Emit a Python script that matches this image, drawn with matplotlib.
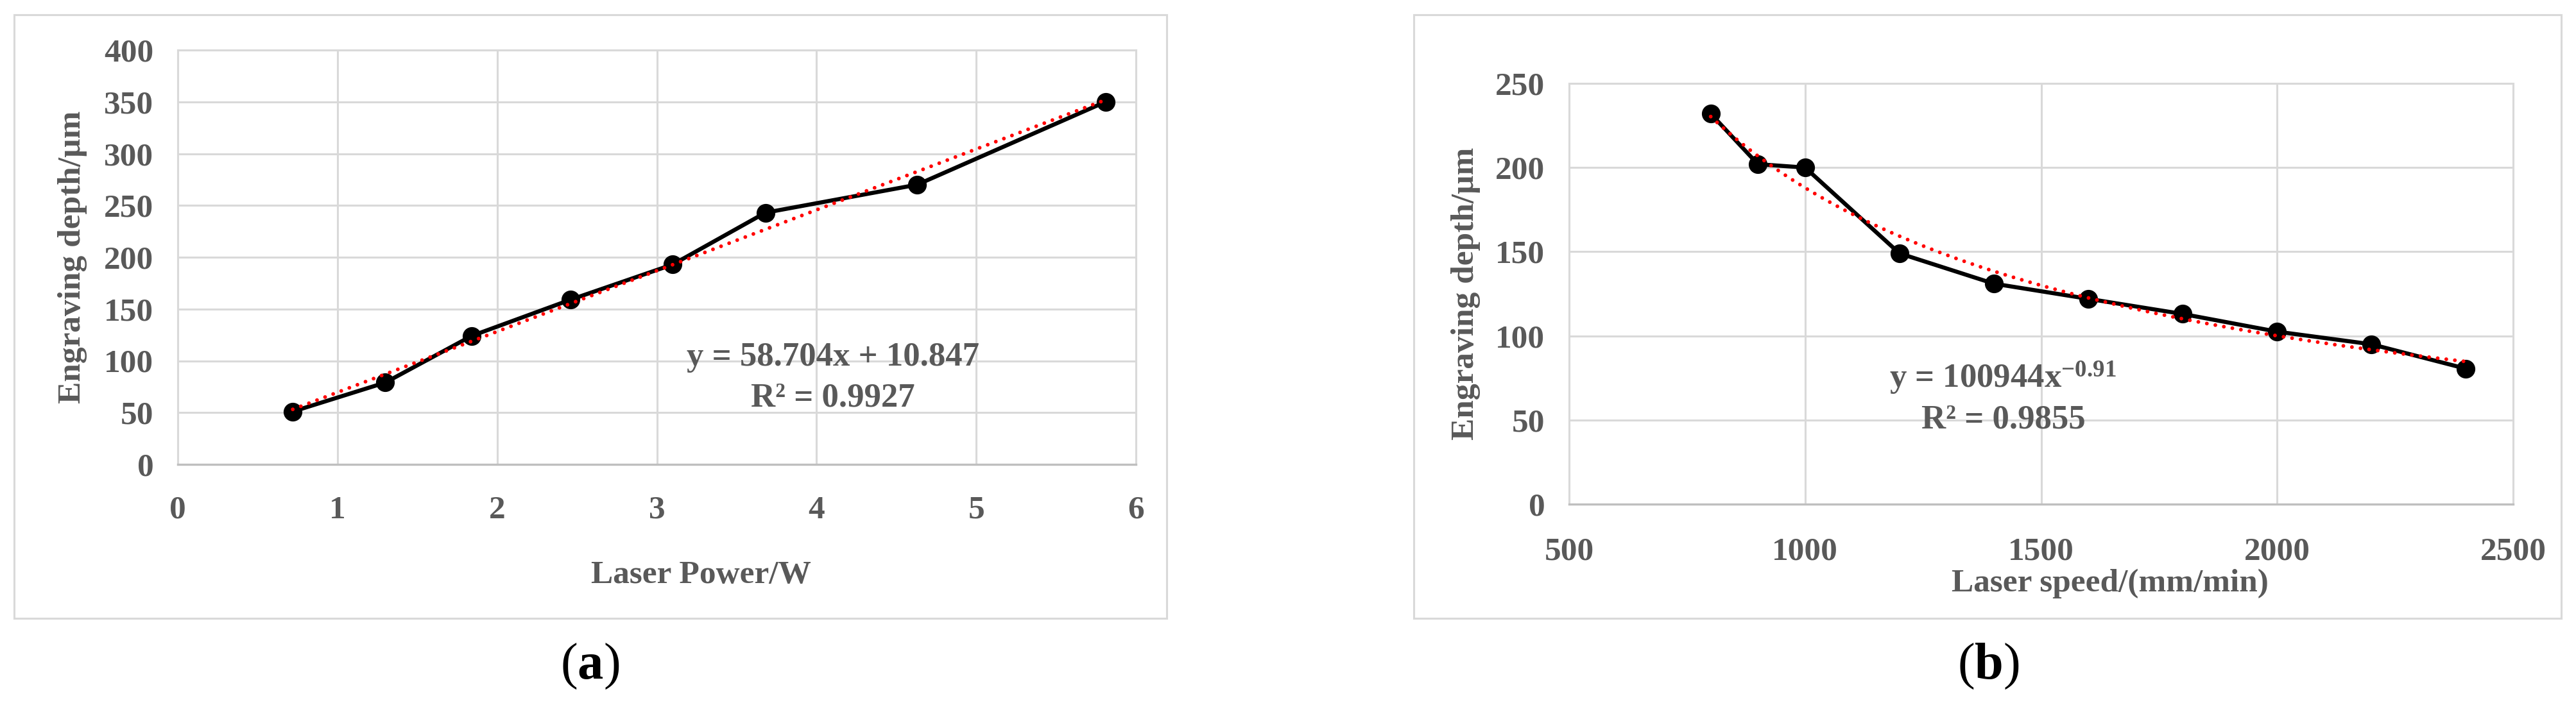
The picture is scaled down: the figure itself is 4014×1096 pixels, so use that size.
import numpy as np
import matplotlib
matplotlib.use('Agg')
import matplotlib.pyplot as plt
from matplotlib.patches import Rectangle

# (a) engraving depth vs laser power
power = [0.72, 1.30, 1.84, 2.46, 3.10, 3.68, 4.63, 5.81]
depth_power = [51, 79, 124, 159, 193, 243, 270, 350]
lin_slope, lin_icept, lin_r2 = 58.704, 10.847, 0.9927

# (b) engraving depth vs laser speed
speed = [800, 900, 1000, 1200, 1400, 1600, 1800, 2000, 2200, 2400]
depth_speed = [232, 202, 200, 149, 131, 122, 113, 102.5, 95, 80.5]
pow_coef, pow_exp, pow_r2 = 100944, -0.91, 0.9855

W, H = 4014, 1096
grey = '#595959'
grid_c = '#d9d9d9'

plt.rcParams['font.family'] = ['Liberation Serif', 'DejaVu Serif']
plt.rcParams['mathtext.fontset'] = 'custom'
plt.rcParams['mathtext.rm'] = 'Liberation Serif'
plt.rcParams['mathtext.bf'] = 'Liberation Serif:bold'
plt.rcParams['mathtext.it'] = 'Liberation Serif:italic'

fig = plt.figure(figsize=(W / 100, H / 100), dpi=100)


def rect(l, t, r, b):
    # pixel box -> figure fraction
    return [l / W, 1 - b / H, (r - l) / W, (b - t) / H]


def ftext(x, y, s, **kw):
    return fig.text(x / W, 1 - y / H, s, **kw)


def style(ax, xticks, yticks, xpad):
    for s in ['top', 'right', 'left']:
        ax.spines[s].set_color(grid_c)
        ax.spines[s].set_linewidth(2.2)
    ax.spines['bottom'].set_color('#bfbfbf')
    ax.spines['bottom'].set_linewidth(2.4)
    ax.grid(True, color=grid_c, lw=2.2)
    ax.set_axisbelow(True)
    ax.set_xticks(xticks)
    ax.set_yticks(yticks)
    ax.set_xticklabels([str(t) for t in xticks], fontweight='bold')
    ax.set_yticklabels([str(t) for t in yticks], fontweight='bold')
    ax.tick_params(length=0, labelsize=37, labelcolor=grey)
    ax.tick_params(axis='x', pad=xpad)
    ax.tick_params(axis='y', pad=27)


# outer frames
for l, r in [(22, 1818), (2203, 3991)]:
    fig.patches.append(Rectangle((l / W, 1 - 964 / H), (r - l) / W, (964 - 23) / H,
                                 transform=fig.transFigure, fill=False,
                                 edgecolor=grid_c, lw=2.2))

# ---- panel a
ax1 = fig.add_axes(rect(277, 78, 1770, 724))
ax1.set_xlim(0, 6)
ax1.set_ylim(0, 400)
style(ax1, list(range(0, 7)), list(range(0, 401, 50)), 35)
ax1.plot(power, depth_power, color='black', lw=4.6, marker='o', ms=20, zorder=3)
xa = np.array([min(power), max(power)])
ax1.plot(xa, lin_slope * xa + lin_icept, color='red', lw=4.2,
         ls=(0, (0.01, 2.3)), dash_capstyle='round', zorder=4)

ftext(1298, 570, f'y = {lin_slope}x + {lin_icept}', ha='center', va='baseline',
      fontsize=38, fontweight='bold', color=grey)
ftext(1298, 633, f'R² = {lin_r2}', ha='center', va='baseline',
      fontsize=38, fontweight='bold', color=grey)
ftext(1092, 909, 'Laser Power/W', ha='center', va='baseline',
      fontsize=37, fontweight='bold', color=grey)
ftext(113, 401, 'Engraving depth/µm', rotation=90, ha='center', va='center',
      fontsize=37, fontweight='bold', color=grey)
ftext(919, 1039, r'$(\mathbf{a})$', ha='center', va='center', fontsize=58, color='black')

# ---- panel b
ax2 = fig.add_axes(rect(2445, 130, 3916, 786))
ax2.set_xlim(500, 2500)
ax2.set_ylim(0, 250)
style(ax2, list(range(500, 2501, 500)), list(range(0, 251, 50)), 37)
ax2.plot(speed, depth_speed, color='black', lw=4.6, marker='o', ms=20, zorder=3)
xb = np.linspace(min(speed), max(speed), 200)
ax2.plot(xb, pow_coef * xb ** pow_exp, color='red', lw=4.2,
         ls=(0, (0.01, 2.3)), dash_capstyle='round', zorder=4)

ftext(3121, 605, f'y = {pow_coef}x' + r'$^{\mathbf{' + str(pow_exp) + '}}$',
      ha='center', va='baseline', fontsize=38, fontweight='bold', color=grey)
ftext(3122, 668, f'R² = {pow_r2}', ha='center', va='baseline',
      fontsize=38, fontweight='bold', color=grey)
ftext(3288, 922, 'Laser speed/(mm/min)', ha='center', va='baseline',
      fontsize=37, fontweight='bold', color=grey)
ftext(2284, 458, 'Engraving depth/µm', rotation=90, ha='center', va='center',
      fontsize=37, fontweight='bold', color=grey)
ftext(3098, 1039, r'$(\mathbf{b})$', ha='center', va='center', fontsize=58, color='black')

fig.savefig('out.png', dpi=100)
